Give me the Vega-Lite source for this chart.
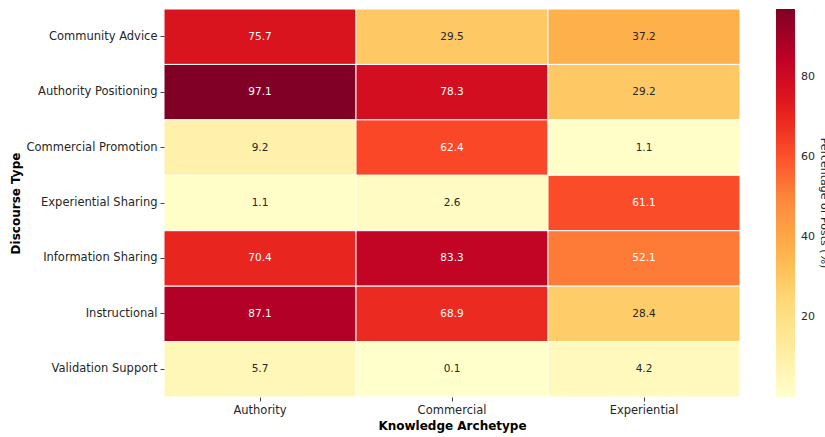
{
  "$schema": "https://vega.github.io/schema/vega-lite/v6.json",
  "width": 576,
  "height": 388,
  "autosize": {"type": "none"},
  "padding": {"left": 164, "top": 9, "right": 85, "bottom": 40},
  "background": "white",
  "config": {
    "view": {"stroke": null},
    "font": "DejaVu Sans"
  },
  "data": {
    "values": [
      {"d": "Community Advice", "k": "Authority", "v": 75.7},
      {"d": "Community Advice", "k": "Commercial", "v": 29.5},
      {"d": "Community Advice", "k": "Experiential", "v": 37.2},
      {"d": "Authority Positioning", "k": "Authority", "v": 97.1},
      {"d": "Authority Positioning", "k": "Commercial", "v": 78.3},
      {"d": "Authority Positioning", "k": "Experiential", "v": 29.2},
      {"d": "Commercial Promotion", "k": "Authority", "v": 9.2},
      {"d": "Commercial Promotion", "k": "Commercial", "v": 62.4},
      {"d": "Commercial Promotion", "k": "Experiential", "v": 1.1},
      {"d": "Experiential Sharing", "k": "Authority", "v": 1.1},
      {"d": "Experiential Sharing", "k": "Commercial", "v": 2.6},
      {"d": "Experiential Sharing", "k": "Experiential", "v": 61.1},
      {"d": "Information Sharing", "k": "Authority", "v": 70.4},
      {"d": "Information Sharing", "k": "Commercial", "v": 83.3},
      {"d": "Information Sharing", "k": "Experiential", "v": 52.1},
      {"d": "Instructional", "k": "Authority", "v": 87.1},
      {"d": "Instructional", "k": "Commercial", "v": 68.9},
      {"d": "Instructional", "k": "Experiential", "v": 28.4},
      {"d": "Validation Support", "k": "Authority", "v": 5.7},
      {"d": "Validation Support", "k": "Commercial", "v": 0.1},
      {"d": "Validation Support", "k": "Experiential", "v": 4.2}
    ]
  },
  "encoding": {
    "x": {
      "field": "k", "type": "nominal", "sort": ["Authority", "Commercial", "Experiential"],
      "title": "Knowledge Archetype",
      "axis": {
        "labelAngle": 0, "labelFontSize": 11.5, "labelColor": "#262626", "labelPadding": 3,
        "tickSize": 4, "tickColor": "#444", "domain": false,
        "titleFontSize": 12, "titleFontWeight": "bold", "titleColor": "#000", "titlePadding": 5
      }
    },
    "y": {
      "field": "d", "type": "nominal",
      "sort": ["Community Advice", "Authority Positioning", "Commercial Promotion", "Experiential Sharing", "Information Sharing", "Instructional", "Validation Support"],
      "title": "Discourse Type",
      "axis": {
        "labelFontSize": 11.5, "labelColor": "#262626", "labelPadding": 3,
        "tickSize": 4, "tickColor": "#444", "domain": false,
        "titleFontSize": 12, "titleFontWeight": "bold", "titleColor": "#000", "titlePadding": 4
      }
    }
  },
  "layer": [
    {
      "mark": {"type": "rect", "stroke": "white", "strokeWidth": 1},
      "encoding": {
        "color": {
          "field": "v", "type": "quantitative",
          "scale": {
            "domain": [0.1, 12.225, 24.35, 36.475, 48.6, 60.725, 72.85, 84.975, 97.1],
            "range": ["#ffffcc", "#ffeda0", "#fed976", "#feb24c", "#fd8d3c", "#fc4e2a", "#e31a1c", "#bd0026", "#800026"],
            "interpolate": "rgb"
          },
          "legend": {
            "orient": "none", "legendX": 612, "legendY": 0,
            "direction": "vertical",
            "gradientLength": 388, "gradientThickness": 19,
            "values": [20, 40, 60, 80],
            "labelFontSize": 11, "labelColor": "#262626", "labelOffset": 6,
            "title": "Percentage of Posts (%)",
            "titleOrient": "right", "titleAngle": 270, "titleAnchor": "middle",
            "titleFontSize": 11, "titleFontWeight": "normal", "titleColor": "#262626",
            "titlePadding": 4
          }
        }
      }
    },
    {
      "mark": {"type": "text", "fontSize": 10.5},
      "encoding": {
        "text": {"field": "v", "type": "quantitative", "format": ".1f"},
        "color": {
          "condition": {"test": "datum.v > 45", "value": "white"},
          "value": "#262626"
        }
      }
    }
  ]
}
